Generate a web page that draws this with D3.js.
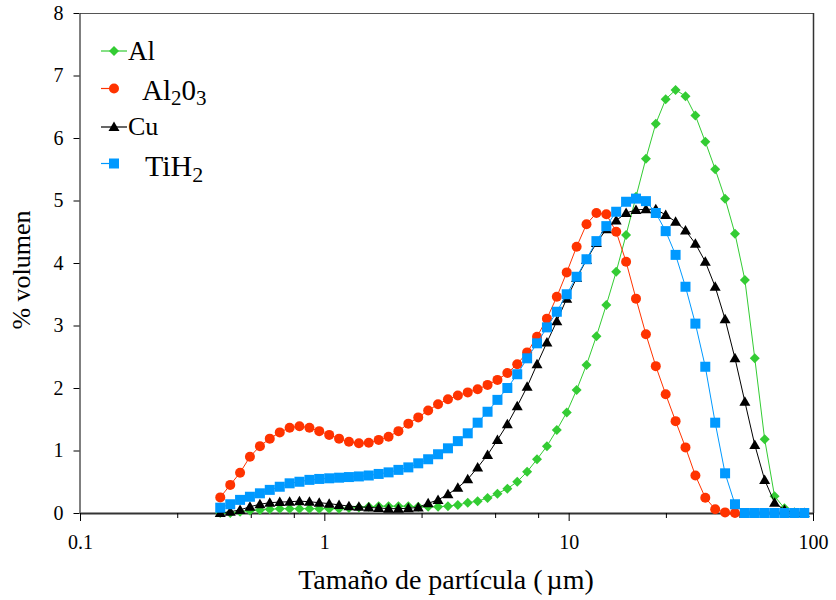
<!DOCTYPE html>
<html><head><meta charset="utf-8">
<script src="https://cdn.jsdelivr.net/npm/d3@7"></script>
<style>body{margin:0;background:#fff}svg{display:block}text{font-family:"Liberation Serif","Times New Roman",serif;fill:#000}</style>
</head><body><svg id="c" width="836" height="600"></svg>
<script>
const sizes = [0.375,0.412,0.452,0.496,0.545,0.598,0.657,0.721,0.791,0.869,0.953,1.047,1.149,1.261,1.385,1.520,1.669,1.832,2.010,2.207,2.423,2.660,2.920,3.206,3.519,3.863,4.241,4.656,5.111,5.611,6.159,6.761,7.422,8.148,8.944,9.819,10.78,11.83,12.99,14.26,15.65,17.18,18.86,20.71,22.73,24.95,27.39,30.07,33.01,36.24,39.78,43.67,47.94,52.62,57.77,63.41,69.61,76.42,83.89,92.09];
const alValues = [0,0,0.02,0.04,0.05,0.06,0.07,0.07,0.07,0.07,0.07,0.07,
  0.07,0.08,0.09,0.10,0.11,0.11,0.11,0.11,0.10,0.10,0.10,0.11,
  0.13,0.165,0.19,0.24,0.31,0.39,0.50,0.66,0.86,1.07,1.33,1.61,
  1.97,2.37,2.83,3.33,3.86,4.45,5.06,5.67,6.23,6.62,6.77,6.67,
  6.36,5.94,5.50,5.03,4.47,3.73,2.475,1.18,0.27,0.075,0.01,0];
const al2o3Values = [0.25,0.45,0.645,0.90,1.07,1.19,1.29,1.365,1.387,1.365,1.31,1.25,
  1.19,1.14,1.115,1.125,1.17,1.22,1.31,1.43,1.53,1.64,1.74,1.82,
  1.88,1.93,1.98,2.05,2.13,2.24,2.38,2.57,2.82,3.11,3.46,3.85,
  4.26,4.62,4.80,4.78,4.50,4.02,3.43,2.86,2.35,1.90,1.47,1.05,
  0.60,0.245,0.06,0.01,0,0,0,0,0,0,0,0];
const cuValues = [0,0.02,0.05,0.10,0.14,0.165,0.175,0.18,0.19,0.18,0.165,0.15,
  0.13,0.11,0.10,0.09,0.08,0.07,0.07,0.075,0.09,0.155,0.21,0.30,
  0.405,0.54,0.73,0.93,1.17,1.42,1.71,2.02,2.38,2.73,3.07,3.43,
  3.76,4.05,4.32,4.54,4.68,4.80,4.85,4.86,4.86,4.77,4.66,4.52,
  4.31,4.02,3.62,3.10,2.475,1.78,1.09,0.53,0.165,0.05,0,0];
const tih2Values = [0.085,0.14,0.21,0.26,0.315,0.37,0.42,0.475,0.50,0.53,0.545,0.555,
  0.565,0.575,0.585,0.60,0.625,0.65,0.69,0.73,0.795,0.86,0.94,1.035,
  1.15,1.275,1.445,1.62,1.81,2.0,2.22,2.475,2.715,2.97,3.22,3.50,
  3.78,4.06,4.35,4.59,4.82,4.98,5.03,4.99,4.80,4.51,4.13,3.62,
  3.03,2.34,1.445,0.635,0.14,0,0,0,0,0,0,0];
const seriesNames = ["Al","Al2O3","Cu","TiH2"];
const yTicks = [0,1,2,3,4,5,6,7,8];
const xMajorTicks = [0.1,1,10,100];
const xMajorLabels = ["0.1","1","10","100"];
const xMinorTicks = [0.25,0.5,0.75,2.5,5,7.5,25,50,75];

const svg = d3.select("#c");
const x = d3.scaleLog().domain([0.1,100]).range([80,813]);
const y = d3.scaleLinear().domain([0,8]).range([513,13]);

const series = [
  {name:seriesNames[0], values:alValues, color:"#33cc33", shape:"diamond"},
  {name:seriesNames[1], values:al2o3Values, color:"#ff3300", shape:"circle"},
  {name:seriesNames[2], values:cuValues, color:"#000000", shape:"triangle"},
  {name:seriesNames[3], values:tih2Values, color:"#0099ff", shape:"square"}
];

function marker(g, shape, cx, cy, color){
  if(shape==="circle") g.append("circle").attr("cx",cx).attr("cy",cy).attr("r",5).attr("fill",color);
  else if(shape==="square") g.append("rect").attr("x",cx-5).attr("y",cy-5).attr("width",10).attr("height",10).attr("fill",color);
  else if(shape==="diamond") g.append("path").attr("d",`M${cx},${cy-5}L${cx+5},${cy}L${cx},${cy+5}L${cx-5},${cy}Z`).attr("fill",color);
  else g.append("path").attr("d",`M${cx},${cy-5.5}L${cx+5.5},${cy+4}L${cx-5.5},${cy+4}Z`).attr("fill",color);
}

// frame
svg.append("line").attr("x1",80).attr("x2",813).attr("y1",13.5).attr("y2",13.5).attr("stroke","#555").attr("stroke-width",1);
svg.append("line").attr("x1",813.5).attr("x2",813.5).attr("y1",13).attr("y2",513).attr("stroke","#333").attr("stroke-width",1.5);

// y axis
const yAxis = d3.axisLeft(y).tickValues(yTicks).tickSize(6).tickSizeOuter(0).tickPadding(10);
const ga = svg.append("g").attr("transform","translate(79.5,0)").call(yAxis);
ga.select(".domain").attr("stroke","#000");
ga.selectAll("text").attr("font-size",20).style("font-family","Liberation Serif");

// x axis
const xAxis = d3.axisBottom(x).tickValues(xMajorTicks).tickFormat((d,i)=>xMajorLabels[i]).tickSize(8).tickSizeOuter(0).tickPadding(14);
const gx = svg.append("g").attr("transform","translate(0,513)").call(xAxis);
gx.select(".domain").attr("stroke","#333").attr("stroke-width",2);
gx.selectAll("text").attr("font-size",20).style("font-family","Liberation Serif");
const gm = d3.axisBottom(x).tickValues(xMinorTicks).tickSize(5).tickFormat("");
const gmx = svg.append("g").attr("transform","translate(0,513)").call(gm);
gmx.select(".domain").remove();

// series
const line = d3.line().x((d,i)=>x(sizes[i])).y(d=>y(d));
series.forEach(s=>{
  const g = svg.append("g");
  g.append("path").attr("d",line(s.values)).attr("fill","none").attr("stroke",s.color).attr("stroke-width",1);
  s.values.forEach((v,i)=>marker(g,s.shape,x(sizes[i]),y(v),s.color));
});

// legend
const lg = svg.append("g");
const rows = [
  {y:51, x2:127, s:series[0]},
  {y:88.5, x2:113, s:series[1]},
  {y:127, x2:127, s:series[2]},
  {y:163.5, x2:113, s:series[3]}
];
rows.forEach(r=>{
  lg.append("line").attr("x1",101).attr("x2",r.x2).attr("y1",r.y).attr("y2",r.y).attr("stroke",r.s.color).attr("stroke-width",1.2);
  marker(lg,r.s.shape,114,r.y,r.s.color);
});
lg.append("text").attr("x",128).attr("y",60).attr("font-size",27).text("Al");
const t2 = lg.append("text").attr("x",142).attr("y",100).attr("font-size",29);
t2.append("tspan").text("Al");
t2.append("tspan").attr("font-size",21).attr("dy",5).text("2");
t2.append("tspan").attr("dy",-5).text("0");
t2.append("tspan").attr("font-size",21).attr("dy",5).text("3");
lg.append("text").attr("x",128).attr("y",135).attr("font-size",26).text("Cu");
const t4 = lg.append("text").attr("x",145).attr("y",176).attr("font-size",30);
t4.append("tspan").text("TiH");
t4.append("tspan").attr("font-size",22).attr("dy",6).text("2");

// titles
const xt = svg.append("text").attr("x",446).attr("y",589).attr("text-anchor","middle").attr("font-size",28);
xt.append("tspan").text("Tamaño de partícula (");
xt.append("tspan").attr("dx",4).text("µm)");
svg.append("text").attr("transform","translate(30,270) rotate(-90)").attr("text-anchor","middle").attr("font-size",26).text("% volumen");
</script></body></html>
